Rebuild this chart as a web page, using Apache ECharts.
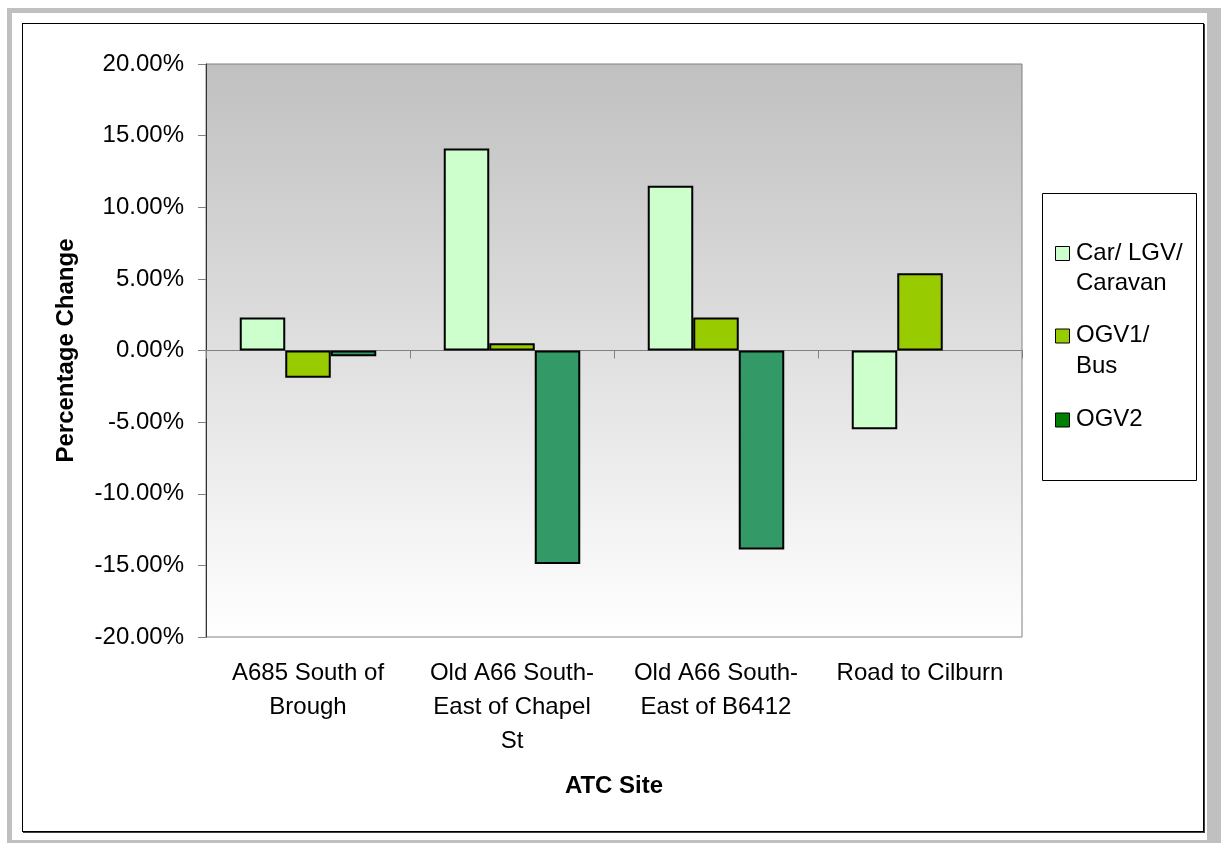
<!DOCTYPE html>
<html>
<head>
<meta charset="utf-8">
<script src="https://cdn.jsdelivr.net/npm/echarts@6/dist/echarts.min.js"></script>
<style>
  html, body { margin: 0; padding: 0; background: #ffffff; }
  #wrap { position: relative; width: 1221px; height: 843px; overflow: hidden; }
  .frame-gray { position: absolute; left: 7px; top: 8px; width: 1214px; height: 835px; background: #c0c0c0; }
  .frame-white { position: absolute; left: 12px; top: 13px; width: 1195px; height: 827px; background: #ffffff; }
  .frame-line { position: absolute; left: 22px; top: 23px; width: 1180px; height: 807px; border: 1px solid #000000; box-shadow: 1px 1px 0 #404040; }
  #chart { position: absolute; left: 0; top: 0; width: 1221px; height: 843px; }
</style>
</head>
<body>
<div id="wrap">
  <div class="frame-gray"></div>
  <div class="frame-white"></div>
  <div class="frame-line"></div>
  <div id="chart"></div>
</div>
<script>
// ATC sites along the x axis
const sites = [
  'A685 South of\nBrough',
  'Old A66 South-\nEast of Chapel\nSt',
  'Old A66 South-\nEast of B6412',
  'Road to Cilburn'
];

// Percentage change per vehicle class
const carLgvCaravan = [2.3, 14.1, 11.5, -5.5];
const ogv1Bus = [-1.9, 0.5, 2.3, 5.4];
const ogv2 = [-0.4, -14.9, -13.9, null];

const seriesNames = ['Car/ LGV/ Caravan', 'OGV1/ Bus', 'OGV2'];
const legendLines = [['Car/ LGV/', 'Caravan'], ['OGV1/', 'Bus'], ['OGV2']];
const barColors = ['#ccffcc', '#99cc00', '#339966'];
const keyColors = ['#ccffcc', '#99cc00', '#008000'];

const FONT = '"Liberation Sans", Arial, sans-serif';

const chart = echarts.init(document.getElementById('chart'), null, { renderer: 'canvas' });

// Legend key, drawn as a boxed list with the swatch beside the first text line
const legendBox = { x: 1042, y: 193, w: 154, h: 287 };
const legendRowY = [253.5, 336, 420];
const legendElements = [{
  type: 'rect',
  shape: { x: legendBox.x + 0.5, y: legendBox.y + 0.5, width: legendBox.w, height: legendBox.h },
  style: { fill: '#ffffff', stroke: '#000000', lineWidth: 1 },
  z: 100
}];
legendLines.forEach((lines, i) => {
  const cy = legendRowY[i];
  legendElements.push({
    type: 'rect',
    shape: { x: 1055.5, y: cy - 7, width: 14, height: 14 },
    style: { fill: keyColors[i], stroke: '#000000', lineWidth: 1 },
    z: 101
  });
  legendElements.push({
    type: 'text',
    x: 1076, y: cy - 15.5,
    style: {
      text: lines.join('\n'),
      font: '24px ' + FONT,
      lineHeight: 30.5,
      fill: '#000000',
      align: 'left',
      verticalAlign: 'top'
    },
    z: 101
  });
});

const option = {
  animation: false,
  textStyle: { fontFamily: FONT },
  grid: {
    left: 206, right: 199, top: 64, bottom: 206,
    show: true,
    borderColor: '#808080',
    borderWidth: 1,
    backgroundColor: {
      type: 'linear', x: 0, y: 0, x2: 0, y2: 1,
      colorStops: [
        { offset: 0, color: '#c0c0c0' },
        { offset: 1, color: '#ffffff' }
      ]
    }
  },
  xAxis: [
    {
      type: 'category',
      data: sites,
      position: 'bottom',
      axisLine: { show: false, onZero: false },
      axisTick: { show: false },
      axisLabel: {
        color: '#000000', fontSize: 24, fontFamily: FONT,
        lineHeight: 34, margin: 19, interval: 0, align: 'center'
      },
      name: 'ATC Site',
      nameLocation: 'middle',
      nameGap: 137,
      nameTextStyle: { color: '#000000', fontSize: 24, fontWeight: 'bold', fontFamily: FONT }
    },
    {
      type: 'category',
      data: sites,
      position: 'bottom',
      axisLine: { show: true, onZero: true, lineStyle: { color: '#808080', width: 1 } },
      axisTick: { show: true, length: 8, interval: 0, lineStyle: { color: '#808080' } },
      axisLabel: { show: false }
    }
  ],
  yAxis: {
    type: 'value',
    min: -20, max: 20, interval: 5,
    splitLine: { show: false },
    axisLine: { show: true, onZero: false, lineStyle: { color: '#333333', width: 1 } },
    axisTick: { show: true, length: 8, lineStyle: { color: '#808080' } },
    axisLabel: {
      color: '#000000', fontSize: 24, fontFamily: FONT, margin: 22,
      formatter: v => v.toFixed(2) + '%'
    },
    name: 'Percentage Change',
    nameLocation: 'middle',
    nameGap: 128,
    nameTextStyle: { color: '#000000', fontSize: 24, fontWeight: 'bold', fontFamily: FONT }
  },
  series: [carLgvCaravan, ogv1Bus, ogv2].map((values, i) => ({
    type: 'bar',
    name: seriesNames[i],
    xAxisIndex: 0,
    data: values,
    barWidth: 45.5,
    barGap: '0%',
    itemStyle: { color: barColors[i], borderColor: '#000000', borderWidth: 2 }
  })),
  graphic: { elements: legendElements }
};

chart.setOption(option);
</script>
</body>
</html>
